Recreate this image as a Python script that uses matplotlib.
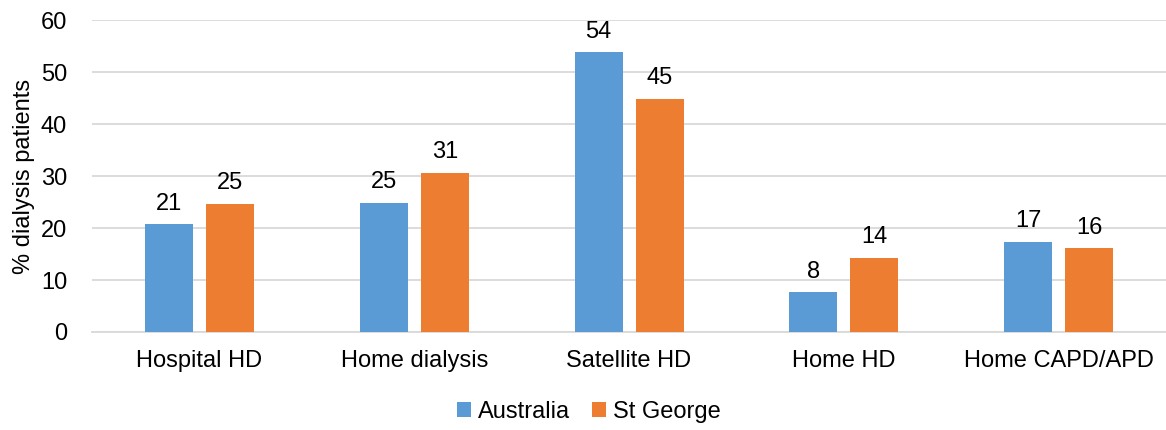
import matplotlib.pyplot as plt
import numpy as np

plt.rcParams['font.family'] = ['Liberation Sans', 'DejaVu Sans']

categories = ['Hospital HD', 'Home dialysis', 'Satellite HD', 'Home HD', 'Home CAPD/APD']
australia = [20.7, 24.9, 53.8, 7.6, 17.4]
st_george = [24.6, 30.6, 44.8, 14.2, 16.1]
y_ticks = [0, 10, 20, 30, 40, 50, 60]

blue = '#5B9BD5'
orange = '#ED7D31'
grid_col = '#D9D9D9'
text_col = '#000000'
fs = 17

fig = plt.figure(figsize=(11.66, 4.30), dpi=100)
ax = fig.add_axes([0.079, 0.228, 0.921, 0.725])

x = np.arange(len(categories))
w = 0.223
off = 0.142
b1 = ax.bar(x - off, australia, w, color=blue, label='Australia', zorder=3)
b2 = ax.bar(x + off, st_george, w, color=orange, label='St George', zorder=3)

for bars in (b1, b2):
    ax.bar_label(bars, fmt='%.0f', padding=7, fontsize=fs, color=text_col)

ax.set_xlim(-0.5, len(categories) - 0.5)
ax.set_ylim(0, 60)
ax.set_yticks(y_ticks)
ax.set_xticks(x)
ax.set_xticklabels(categories)
ax.tick_params(axis='both', length=0, labelsize=fs, colors='#000000')
ax.tick_params(axis='x', pad=13)
ax.tick_params(axis='y', pad=18)
ax.yaxis.grid(True, color=grid_col, linewidth=1.3, zorder=0)
for s in ['top', 'right', 'left']:
    ax.spines[s].set_visible(False)
ax.spines['bottom'].set_color(grid_col)
ax.spines['bottom'].set_linewidth(1.3)

ax.set_ylabel('% dialysis patients', fontsize=fs, labelpad=4)

fig.legend(handles=[b1, b2], labels=['Australia', 'St George'], loc='center',
           bbox_to_anchor=(0.505, 0.043), ncol=2, frameon=False, fontsize=fs,
           handlelength=0.6, handleheight=0.6, handletextpad=0.3, columnspacing=0.9)

fig.savefig('out.png', dpi=100)
